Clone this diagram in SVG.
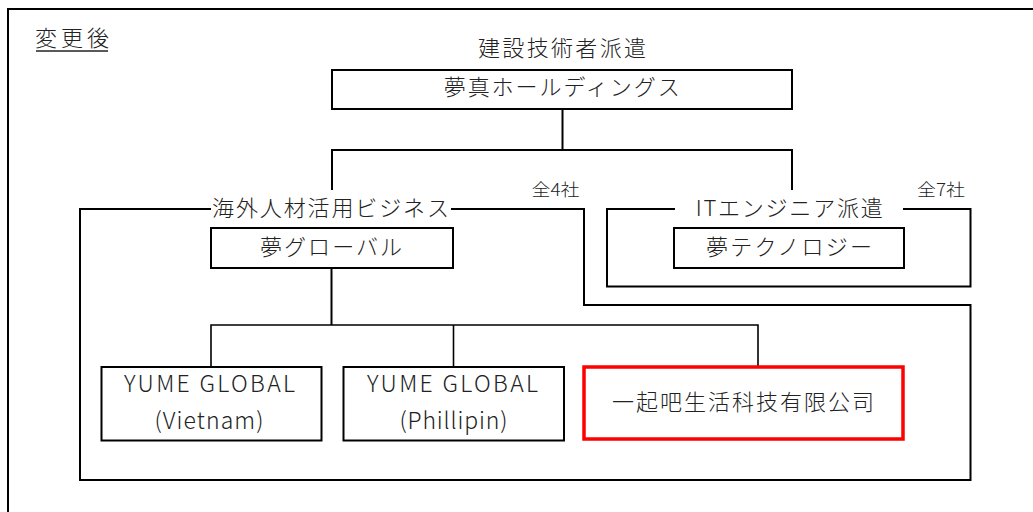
<svg xmlns="http://www.w3.org/2000/svg" width="1033" height="512" viewBox="0 0 1033 512">
  <style>
    .t { font-family: "Noto Sans CJK JP", "Noto Sans", sans-serif; font-size: 22px; font-weight: 300; fill: #222; text-anchor: middle; }
    .s { font-size: 17px; }
    .lat { font-size: 23px; }
    .box { fill: #fff; stroke: #000; stroke-width: 2; }
    .red { fill: #fff; stroke: #ff0000; stroke-width: 3.5; }
    .ln { fill: none; stroke: #000; stroke-width: 2; }
    .ln2 { fill: none; stroke: #000; stroke-width: 1.6; }
  </style>
  <rect x="0" y="0" width="1033" height="512" fill="#fff"/>

  <!-- outer frame -->
  <path class="ln" d="M8,512 V9 H1033" stroke-width="2.5"/>

  <g id="title">
    <text class="t" x="72" y="46" textLength="74" lengthAdjust="spacing">変更後</text>
    <line x1="36" y1="51" x2="108" y2="51" stroke="#222" stroke-width="1.5"/>
  </g>

  <g id="connectors">
    <path class="ln" d="M562.5,109 V150"/>
    <path class="ln" d="M332,190 V150 H792 V190"/>
    <path class="ln" d="M331.5,268 V325"/>
    <path class="ln2" d="M211,367 V325 H758 V366"/>
    <path class="ln2" d="M453.5,325 V367"/>
  </g>

  <g id="group-overseas">
    <path class="ln" d="M211,209 H80 V480 H970.5 V305 H584 V209 H451"/>
    <text class="t" x="330.5" y="215.5" textLength="237" lengthAdjust="spacing">海外人材活用ビジネス</text>
    <text class="t s" x="555.5" y="196" textLength="48" lengthAdjust="spacingAndGlyphs">全4社</text>
  </g>

  <g id="group-it">
    <path class="ln" d="M675,209 H607 V286.5 H970.5 V209 H903"/>
    <text class="t" x="789.2" y="215.5" textLength="187" lengthAdjust="spacing">ITエンジニア派遣</text>
    <text class="t s" x="941" y="196" textLength="48" lengthAdjust="spacingAndGlyphs">全7社</text>
  </g>

  <g id="node-construction">
    <text class="t" x="562" y="56" textLength="168" lengthAdjust="spacing">建設技術者派遣</text>
  </g>

  <g id="node-holdings">
    <rect class="box" x="332" y="70" width="460" height="39"/>
    <text class="t" x="561.7" y="95" textLength="236" lengthAdjust="spacing">夢真ホールディングス</text>
  </g>

  <g id="node-yume-global">
    <rect class="box" x="211" y="228" width="242" height="40"/>
    <text class="t" x="331" y="254.5" textLength="142" lengthAdjust="spacing">夢グローバル</text>
  </g>

  <g id="node-yume-technology">
    <rect class="box" x="674" y="228" width="230" height="40"/>
    <text class="t" x="789" y="254.5" textLength="166" lengthAdjust="spacing">夢テクノロジー</text>
  </g>

  <g id="node-vietnam">
    <rect class="box" x="101.5" y="367" width="220" height="73.5"/>
    <text class="t lat" x="209.5" y="392" textLength="171" lengthAdjust="spacing">YUME GLOBAL</text>
    <text class="t lat" x="209" y="429" textLength="109" lengthAdjust="spacing">(Vietnam)</text>
  </g>

  <g id="node-phillipin">
    <rect class="box" x="343.5" y="367" width="220.5" height="73.5"/>
    <text class="t lat" x="452.5" y="392" textLength="171" lengthAdjust="spacing">YUME GLOBAL</text>
    <text class="t lat" x="453.5" y="429" textLength="108" lengthAdjust="spacing">(Phillipin)</text>
  </g>

  <g id="node-china">
    <rect class="red" x="584" y="367" width="319" height="72"/>
    <text class="t" x="743" y="410" textLength="262" lengthAdjust="spacing">一起吧生活科技有限公司</text>
  </g>
</svg>
